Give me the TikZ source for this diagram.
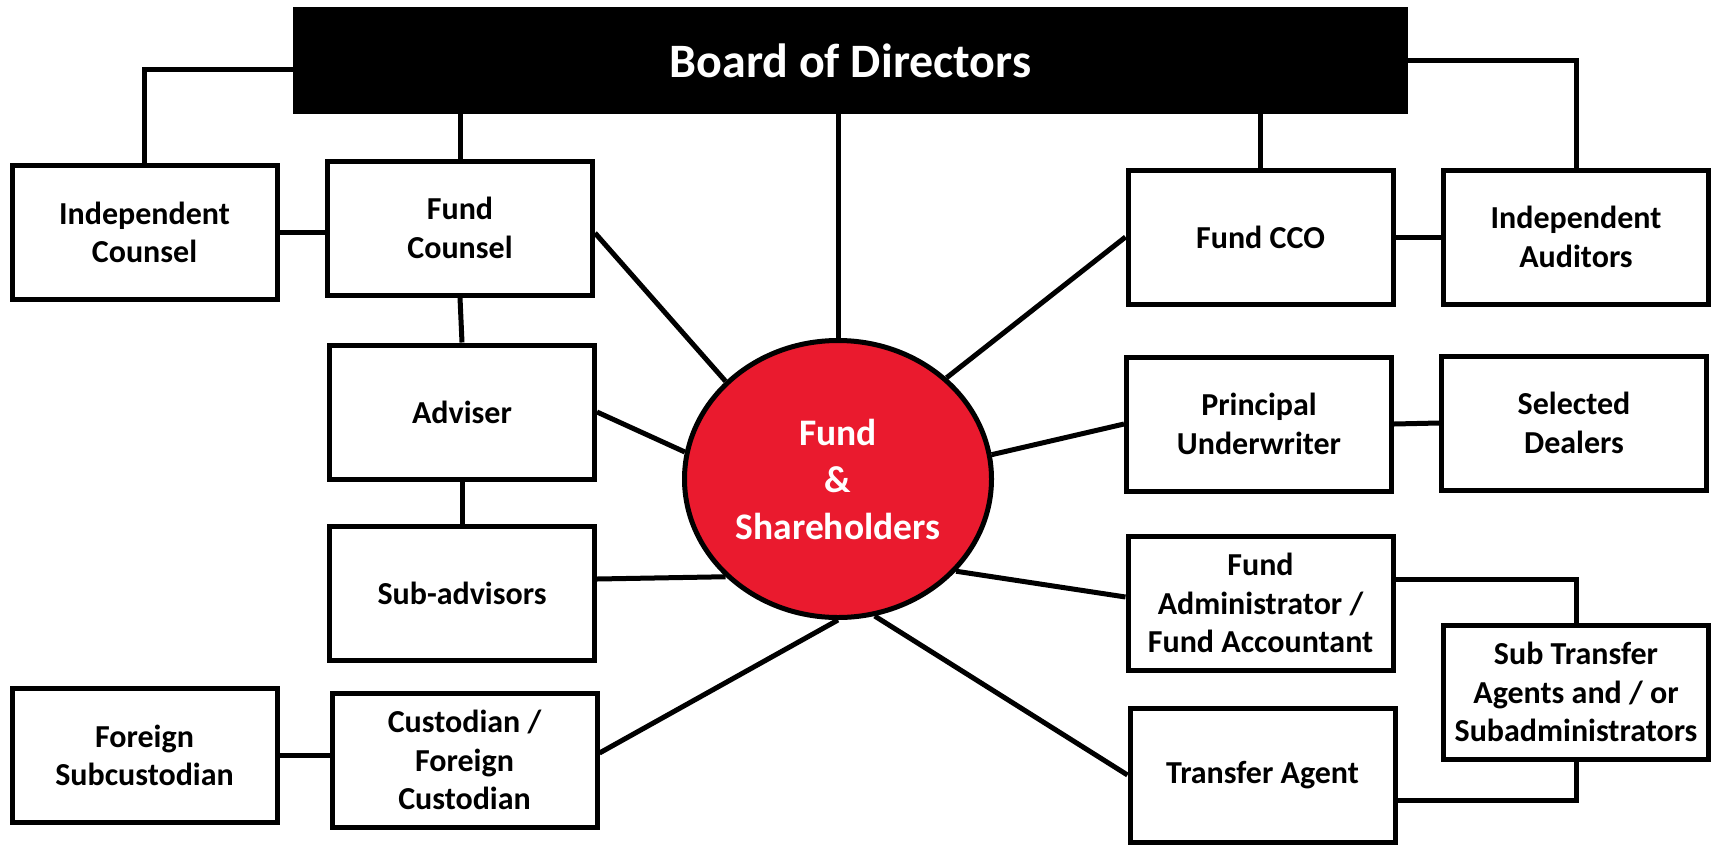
\documentclass[tikz,border=0pt]{standalone}
\usepackage{fontspec}
\setmainfont{Carlito}
\usetikzlibrary{shapes.geometric}
\definecolor{fundred}{RGB}{234,26,46}
\begin{document}
\begin{tikzpicture}[x=1pt,y=-1pt,line width=5pt,
	box/.style={draw,rectangle,minimum width=265pt,minimum height=134pt,inner sep=2pt,
		align=center,font=\fontsize{32}{38.5}\selectfont\bfseries}]
		\useasboundingbox (0,0) rectangle (1715,844);
		\node[fill=black,text=white,outer sep=0pt,minimum width=1115pt,minimum height=107pt,
			font=\fontsize{48}{56}\selectfont\bfseries] (board) at (850.5,60.5) {Board of Directors};
		\node[box] (ic) at (144.5,232.5) {Independent\\Counsel};
		\node[box] (fc) at (460,228) {Fund\\Counsel};
		\node[box] (adv) at (462,412) {Adviser};
		\node[box] (sa) at (462,593.5) {Sub-advisors};
		\node[box] (fs) at (144.5,755.5) {Foreign\\Subcustodian};
		\node[box] (cfc) at (464.5,760) {Custodian /\\Foreign\\Custodian};
		\node[box] (cco) at (1260.5,237) {Fund CCO};
		\node[box] (ia) at (1576,237) {Independent\\Auditors};
		\node[box] (pu) at (1259,424) {Principal\\Underwriter};
		\node[box] (sd) at (1574,423) {Selected\\Dealers};
		\node[box] (fa) at (1260.5,603) {Fund\\Administrator /\\Fund Accountant};
		\node[box] (sta) at (1576,692) {Sub Transfer\\Agents and / or\\Subadministrators};
		\node[box] (ta) at (1262.5,775) {Transfer Agent};
		\node[ellipse,draw,fill=fundred,text=white,minimum width=307pt,minimum height=277pt,
			inner sep=0pt,align=center,font=\fontsize{37.5}{47}\selectfont\bfseries] (fund) at (838,479) {Fund\\\&\\Shareholders};
		% board links
		\draw (fund.north) -- (fund.north |- board.south);
		\draw (ic.north) |- ([yshift=-8.5pt]board.west);
		\draw (board.east) -| (ia.north);
		\draw (fc.north) -- (fc.north |- board.south);
		\draw (cco.north) -- (cco.north |- board.south);
		% box to box
		\draw (ic.east) -- (ic.east -| fc.west);
		\draw (fc.south) -- (adv.north);
		\draw (adv.south) -- (sa.north);
		\draw (fs.east) -- (fs.east -| cfc.west);
		\draw (cco.east) -- (ia.west);
		\draw (pu.east) -- (sd.west);
		\draw ([yshift=24pt]fa.east) -| (sta.north);
		\draw (sta.south) |- ([yshift=-25pt]ta.east);
		% spokes
		\draw ([yshift=-5pt]fc.east) -- (fund.139);
		\draw (adv.east) -- (fund.170);
		\draw ([yshift=14.5pt]sa.east) -- (fund.221);
		\draw ([yshift=7pt]cfc.east) -- (fund.south);
		\draw (cco.west) -- (fund.43);
		\draw (pu.west) -- (fund.9);
		\draw ([yshift=6pt]fa.west) -- (fund.322);
		\draw (ta.west) -- (fund.285);
	\end{tikzpicture}
\end{document}
